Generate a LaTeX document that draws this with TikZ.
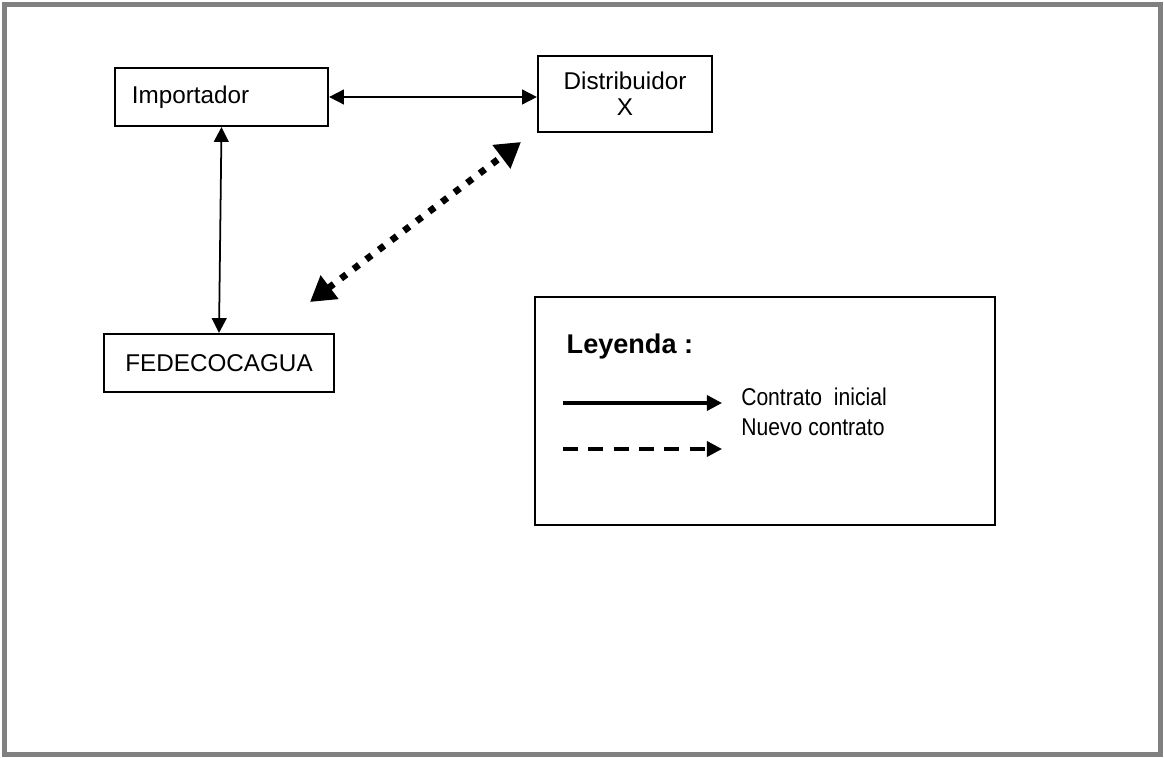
\documentclass[tikz,border=0pt]{standalone}
\usepackage{fontspec}
\setmainfont{Liberation Sans}
\usepackage{graphicx}
\usetikzlibrary{arrows.meta}
\usetikzlibrary{positioning}

\begin{document}
\begin{tikzpicture}[x=0.01cm,y=-0.01cm,
	main node/.style={rectangle,draw,line width=0.6pt,inner sep=0pt,
		font=\fontsize{6.9}{7.3}\selectfont},
	thin arrow/.style={line width=0.5pt,{Triangle[length=4.2pt,width=4.2pt]}-{Triangle[length=4.2pt,width=4.2pt]}},
	new arrow/.style={line width=1.9pt,dash pattern=on 1.9pt off 2.6pt,
		{Triangle[length=7pt,width=8pt]}-{Triangle[length=7pt,width=8pt]}},
	key arrow/.style={line width=0.95pt,-{Triangle[length=4.3pt,width=4.3pt]}},
	key text/.style={anchor=center,inner sep=0pt,font=\fontsize{6.9}{7.3}\selectfont}]
	
	\useasboundingbox (0,0) rectangle (1164,758);
	\draw[gray,line width=1.42pt] (4.5,4.5) rectangle (1160.5,754.5);
	
	\node[main node, minimum width=2.13cm, minimum height=0.58cm,
		text width=1.79cm, align=left, inner xsep=0.17cm] (imp) at (221.5,97) {Importador};
	\node[main node, minimum width=1.74cm, minimum height=0.76cm,
		align=center] (dist) at (625,94) {Distribuidor\\X};
	\node[main node, minimum width=2.30cm, minimum height=0.58cm] (fede) at (219,363) {FEDECOCAGUA};
	
	% contracts
	\draw[thin arrow] (imp.east) -- (imp.east -| dist.west);
	\draw[thin arrow] (imp.south) -- (fede.north);
	
	\coordinate (newA) at (310,302);
	\coordinate (newB) at (521,142);
	\draw[new arrow] (newA) -- (newB);
	
	% legend
	\node[draw,line width=0.6pt,minimum width=4.6cm,minimum height=2.28cm] (leg) at (765,411) {};
	\node[anchor=west,inner sep=0pt,font=\fontsize{7.7}{8}\selectfont\bfseries] (legtitle) at (566,346) {Leyenda :};
	\node[key text] (initial) at (814,397) {\scalebox{0.87}[1]{Contrato\ \ inicial}};
	\node[key text] (nuevo) at (813,427) {\scalebox{0.87}[1]{Nuevo contrato}};
	\coordinate (solidA) at (563,403);
	\coordinate (solidB) at (722,403);
	\coordinate (dashA) at (563,449);
	\coordinate (dashB) at (722,449);
	\draw[key arrow] (solidA) -- (solidB);
	\draw[key arrow,dash pattern=on 4.3pt off 2.9pt] (dashA) -- (dashB);
	
\end{tikzpicture}
\end{document}
